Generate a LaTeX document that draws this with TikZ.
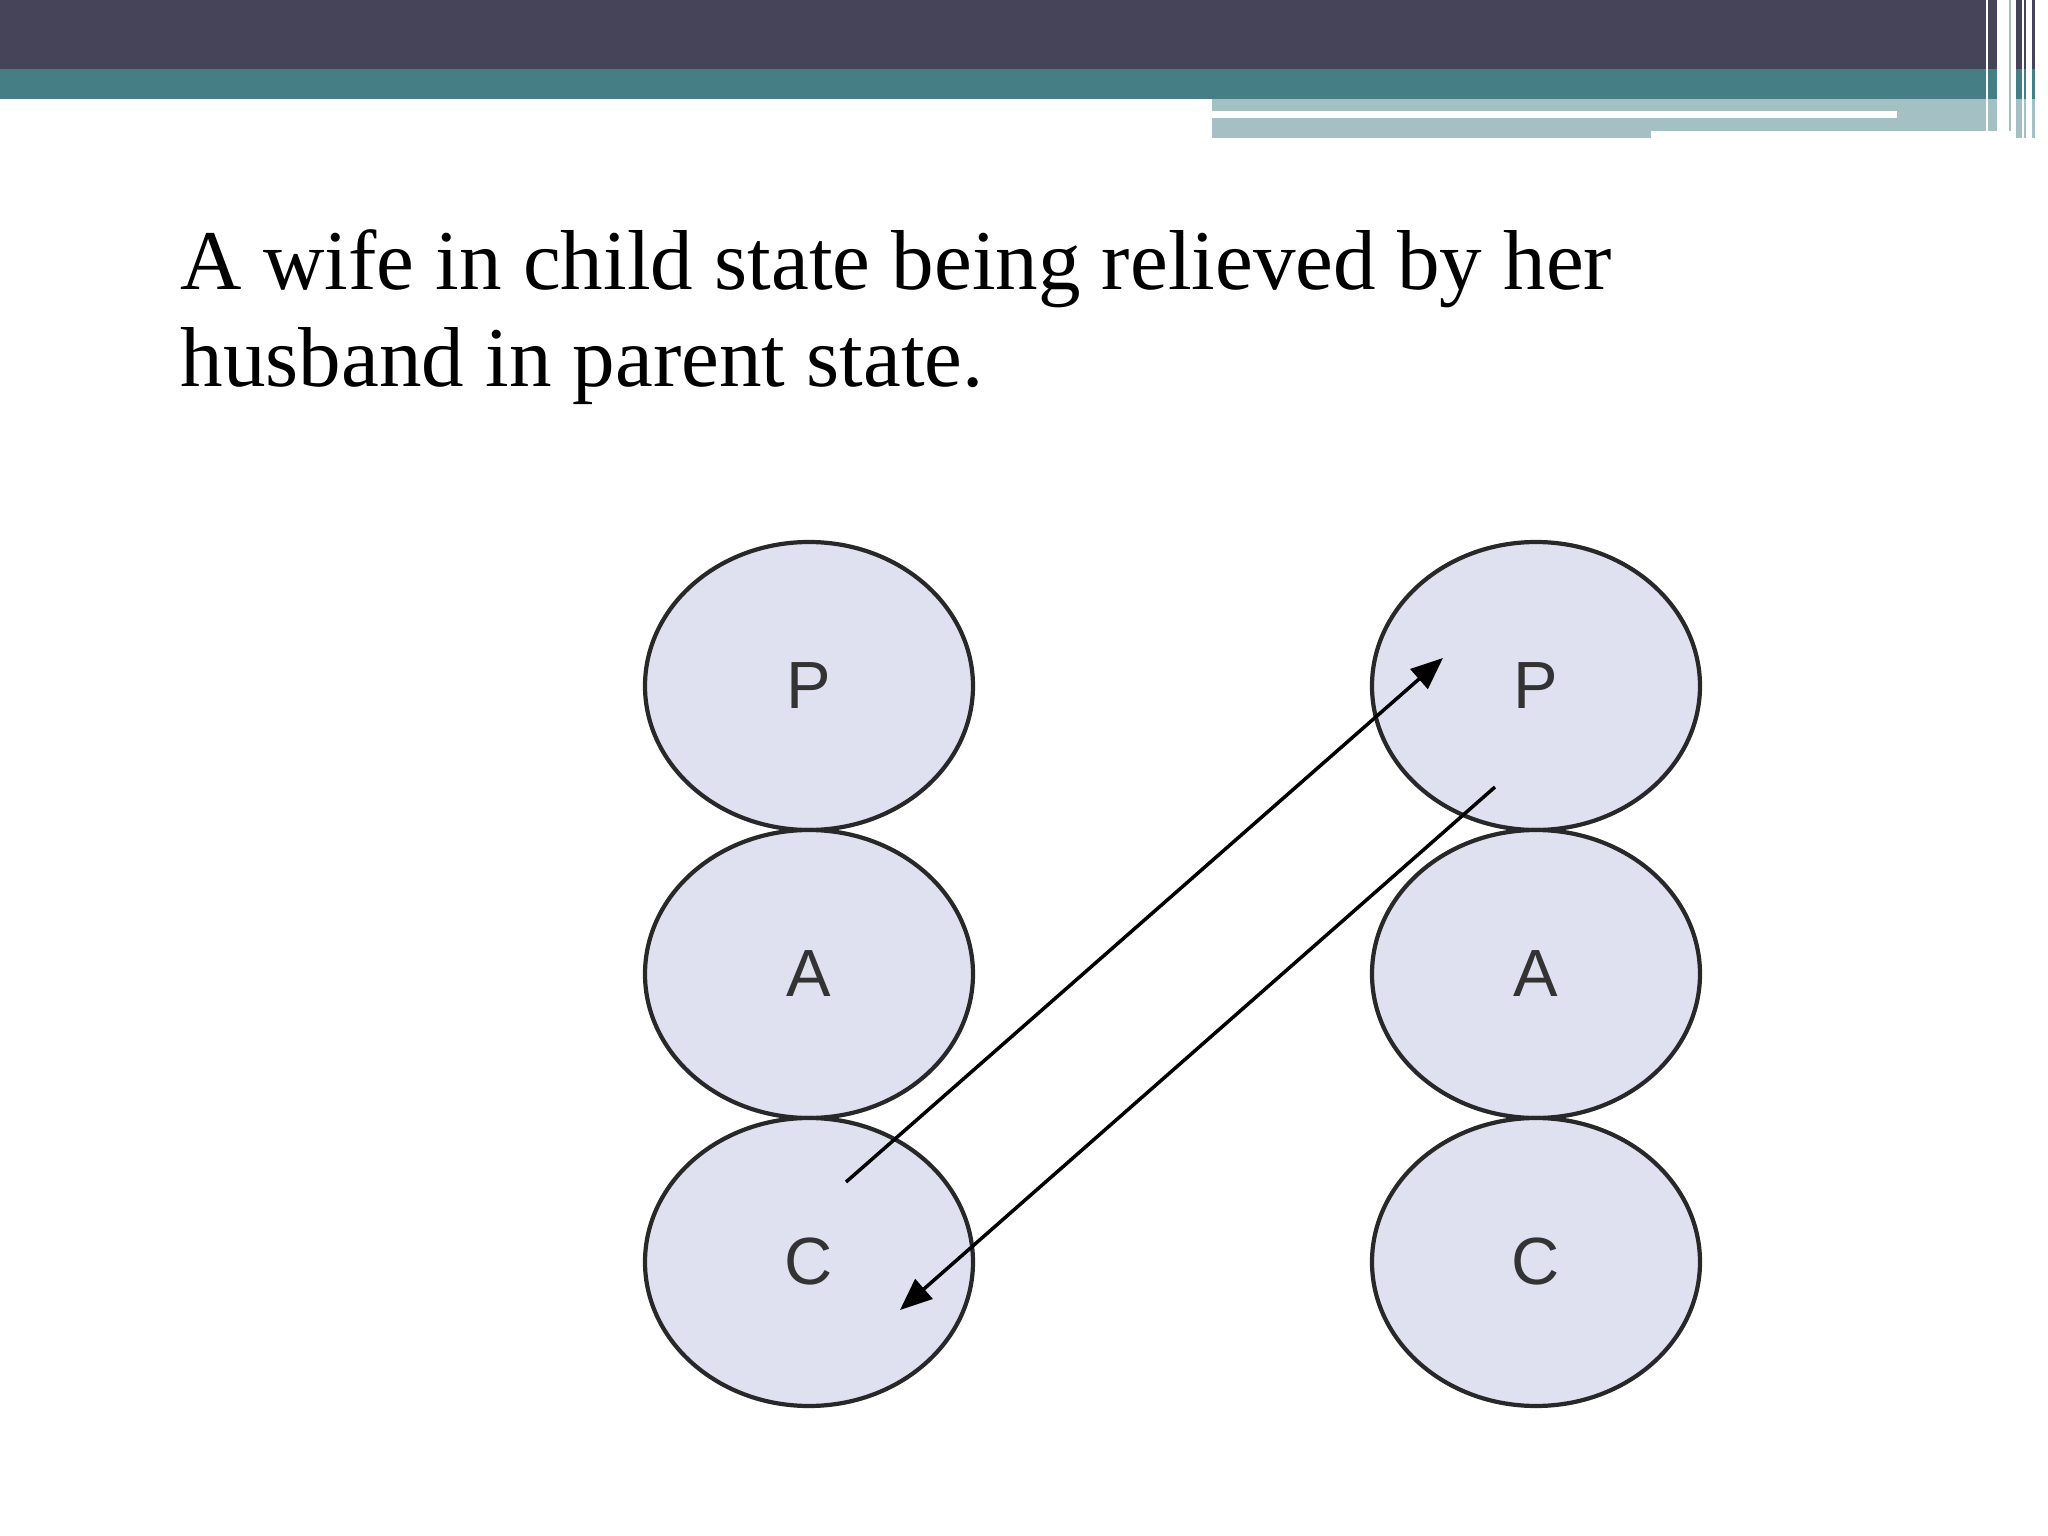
\documentclass[tikz,border=0pt]{standalone}
\usepackage{fontspec}
\setmainfont{Liberation Serif}
\newfontfamily\labelfont{Liberation Sans}
\usetikzlibrary{arrows.meta,shapes.geometric,positioning}
\definecolor{bardark}{RGB}{69,68,89}
\definecolor{barteal}{RGB}{70,126,133}
\definecolor{barlight}{RGB}{164,192,196}
\definecolor{egofill}{RGB}{224,225,240}
\definecolor{egoline}{RGB}{40,40,40}

\begin{document}
\begin{tikzpicture}
                \tikzstyle{every node}+=[inner sep=0pt]
                \tikzstyle{ego}=[ellipse,draw=egoline,line width=1.2pt,fill=egofill,
                  minimum width=3.28cm,minimum height=2.88cm,
                  font=\labelfont\fontsize{19}{19}\selectfont,text=black!80]
                \tikzstyle{transaction}=[line width=1pt,-{Triangle[length=0.32cm,width=0.26cm]}]
                \useasboundingbox (0,0) rectangle (20.48,-15.36);
                % header bars
                \fill [bardark] (0,0) rectangle (19.86,-0.69);
                \fill [barteal] (0,-0.69) rectangle (19.86,-0.995);
                \fill [barlight] (12.12,-0.995) rectangle (19.86,-1.31);
                \fill [barlight] (12.12,-1.31) rectangle (16.51,-1.38);
                \fill [white] (12.12,-1.11) rectangle (18.97,-1.18);
                \foreach \xa/\xb/\yb in {19.88/19.97/1.31,20.16/20.22/1.38,20.24/20.26/1.38,20.32/20.35/1.38} {
                  \fill [bardark] (\xa,0) rectangle (\xb,-0.69);
                  \fill [barteal] (\xa,-0.69) rectangle (\xb,-0.995);
                  \fill [barlight] (\xa,-0.995) rectangle (\xb,-\yb);
                }
                \draw [barlight,line width=0.4pt] (20.10,0) -- (20.10,-1.31);
                % title
                \node (title) [anchor=base west,align=left,font=\fontsize{24.2}{27.8}\selectfont]
                  at (1.80,-3.87) {A wife in child state being relieved by her\\husband in parent state.};
                % wife
                \node (pL) [ego] at (8.09,-6.86) {P};
                \node (aL) [ego] at (8.09,-9.74) {A};
                \node (cL) [ego] at (8.09,-12.62) {C};
                % husband
                \node (pR) [ego] at (15.36,-6.86) {P};
                \node (aR) [ego] at (15.36,-9.74) {A};
                \node (cR) [ego] at (15.36,-12.62) {C};
                \coordinate (wifeOut) at (8.46,-11.82);
                \coordinate (husbandIn) at (14.43,-6.58);
                \coordinate (husbandOut) at (14.95,-7.87);
                \coordinate (wifeIn) at (9.00,-13.10);
                \draw [transaction] (wifeOut) -- (husbandIn);
                \draw [transaction] (husbandOut) -- (wifeIn);
\end{tikzpicture}
\end{document}
